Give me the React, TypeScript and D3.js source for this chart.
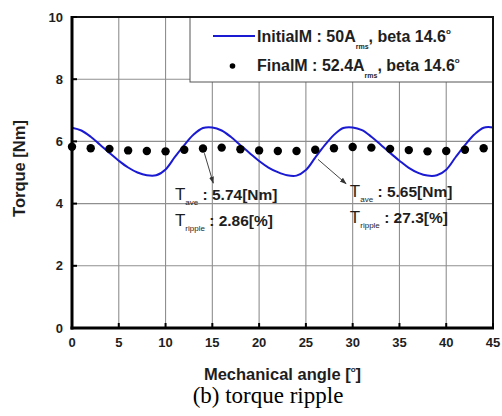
import React from 'react'
import * as d3 from 'd3'

// Initial machine: torque every 1 degree (0..45)
const initialAngle = d3.range(0, 46)
const initialTorque = [
  6.44, 6.35, 6.15, 5.89, 5.63, 5.38, 5.16, 5.00, 4.91, 4.91, 5.10, 5.50, 5.88, 6.22, 6.43,
  6.45, 6.35, 6.14, 5.88, 5.62, 5.37, 5.16, 5.01, 4.91, 4.90, 5.08, 5.48, 5.87, 6.21, 6.43,
  6.45, 6.36, 6.15, 5.89, 5.63, 5.38, 5.15, 4.99, 4.90, 4.91, 5.09, 5.49, 5.88, 6.22, 6.44,
  6.45,
]

// Final machine: torque every 2 degrees (0..44)
const finalAngle = d3.range(0, 45, 2)
const finalTorque = [
  5.83, 5.78, 5.76, 5.71, 5.69, 5.68, 5.73, 5.77, 5.80, 5.75, 5.71, 5.69,
  5.69, 5.73, 5.78, 5.82, 5.80, 5.76, 5.72, 5.68, 5.69, 5.73, 5.78,
]

const xTicks = [0, 5, 10, 15, 20, 25, 30, 35, 40, 45]
const yTicks = [0, 2, 4, 6, 8, 10]

// annotation labels: [x, y] in data units, arrow from -> to
const notes = [
  { at: [11.0, 4.12], ave: '5.74[Nm]', ripple: '2.86[%]', from: [14.15, 5.62], to: [15.1, 4.66] },
  { at: [29.7, 4.22], ave: '5.65[Nm]', ripple: '27.3[%]', from: [26.3, 5.42], to: [29.3, 4.64] },
]

const W = 502
const H = 416
const left = 72
const right = 493
const top = 17
const bottom = 328

const sans = 'Liberation Sans, Arial, sans-serif'
const ink = '#1e1e1e'

export default function App() {
  const x = d3.scaleLinear().domain([0, 45]).range([left, right])
  const y = d3.scaleLinear().domain([0, 10]).range([bottom, top])

  const line = d3.line<number>()
    .x((_, i) => x(initialAngle[i]))
    .y(d => y(d))
    .curve(d3.curveCatmullRom)

  return (
    <svg width={W} height={H} style={{ position: 'absolute', left: 0, top: 0, background: '#fff' }}>
      <defs>
        <marker id="arr" viewBox="0 0 10 10" refX="9" refY="5" markerWidth="7" markerHeight="7" orient="auto">
          <path d="M0,1.5 L10,5 L0,8.5 z" fill="#333" />
        </marker>
      </defs>
      <rect x={0} y={0} width={W} height={H} fill="#fff" />

      {/* grid */}
      <g stroke="#8f8f8f" strokeWidth={1.1}>
        {xTicks.map(t => <line key={'gx' + t} x1={x(t)} x2={x(t)} y1={top} y2={bottom} />)}
        {yTicks.map(t => <line key={'gy' + t} x1={left} x2={right} y1={y(t)} y2={y(t)} />)}
      </g>

      {/* legend box */}
      <rect x={190} y={top} width={right - 190} height={65} fill="#fff" stroke="#555" strokeWidth={1} />
      <line x1={213} x2={255} y1={36} y2={36} stroke="#1a1ad2" strokeWidth={2} />
      <circle cx={232.5} cy={66} r={2.8} fill="#000" />
      <g fontFamily={sans} fontWeight="bold" fontSize={16} fill={ink}>
        <text x={257} y={42.3}>
          InitialM : 50A<tspan fontSize={7} dy={6.5}>rms</tspan>
          <tspan dy={-6.5}>, beta 14.6</tspan><tspan fontSize={8} dy={-8}>o</tspan>
        </text>
        <text x={257} y={71.3}>
          FinalM : 52.4A<tspan fontSize={7} dy={6.5}>rms</tspan>
          <tspan dy={-6.5}>, beta 14.6</tspan><tspan fontSize={8} dy={-8}>o</tspan>
        </text>
      </g>

      {/* series */}
      <path d={line(initialTorque) || ''} fill="none" stroke="#1a1ad2" strokeWidth={2} />
      {finalTorque.map((v, i) => (
        <circle key={'d' + i} cx={x(finalAngle[i])} cy={y(v)} r={4.2} fill="#000" />
      ))}

      {/* annotations */}
      {notes.map((n, i) => {
        const ax = x(n.at[0])
        const ay = y(n.at[1])
        return (
          <g key={'n' + i} fontFamily={sans} fontWeight="bold" fill={ink}>
            <line x1={x(n.from[0])} y1={y(n.from[1])} x2={x(n.to[0])} y2={y(n.to[1])}
              stroke="#444" strokeWidth={1} markerEnd="url(#arr)" />
            <text x={ax} y={ay} fontSize={15.5}>
              <tspan fontSize={17} fontWeight="normal">T</tspan><tspan fontSize={8} fontWeight="normal" dy={5}>ave</tspan>
              <tspan dy={-5}> : {n.ave}</tspan>
            </text>
            <text x={ax} y={ay + 26} fontSize={15.5}>
              <tspan fontSize={17} fontWeight="normal">T</tspan><tspan fontSize={8} fontWeight="normal" dy={5}>ripple</tspan>
              <tspan dy={-5}> : {n.ripple}</tspan>
            </text>
          </g>
        )
      })}

      {/* frame and ticks */}
      <rect x={left} y={top} width={right - left} height={bottom - top} fill="none" stroke="#111" strokeWidth={2} />
      <line x1={left} x2={left} y1={top - 1} y2={bottom + 1.5} stroke="#000" strokeWidth={3} />
      <line x1={left - 1.5} x2={right + 1} y1={bottom} y2={bottom} stroke="#000" strokeWidth={3} />
      <g stroke="#000" strokeWidth={2}>
        {xTicks.map(t => <line key={'tx' + t} x1={x(t)} x2={x(t)} y1={bottom} y2={bottom - 5} />)}
        {yTicks.map(t => <line key={'ty' + t} x1={left} x2={left + 5} y1={y(t)} y2={y(t)} />)}
      </g>

      {/* tick labels */}
      <g fontFamily={sans} fontWeight="bold" fontSize={13} fill={ink}>
        {xTicks.map(t => (
          <text key={'lx' + t} x={x(t)} y={bottom + 19} textAnchor="middle">{t}</text>
        ))}
        {yTicks.map(t => (
          <text key={'ly' + t} x={left - 9} y={y(t) + 4.6} textAnchor="end">{t}</text>
        ))}
      </g>

      {/* axis titles */}
      <text x={(left + right) / 2} y={380} textAnchor="middle" fontFamily={sans} fontWeight="bold" fontSize={16.5} fill={ink}>
        Mechanical angle [<tspan fontSize={8} dy={-8}>o</tspan><tspan dy={8}>]</tspan>
      </text>
      <text transform={`translate(25,${(top + bottom) / 2 - 4}) rotate(-90)`} textAnchor="middle"
        fontFamily={sans} fontWeight="bold" fontSize={16.5} fill={ink}>
        Torque [Nm]
      </text>

      {/* caption */}
      <text x={268} y={403} textAnchor="middle" fontFamily="Liberation Serif, Times New Roman, serif" fontSize={23} fill="#000">
        (b) torque ripple
      </text>
    </svg>
  )
}
